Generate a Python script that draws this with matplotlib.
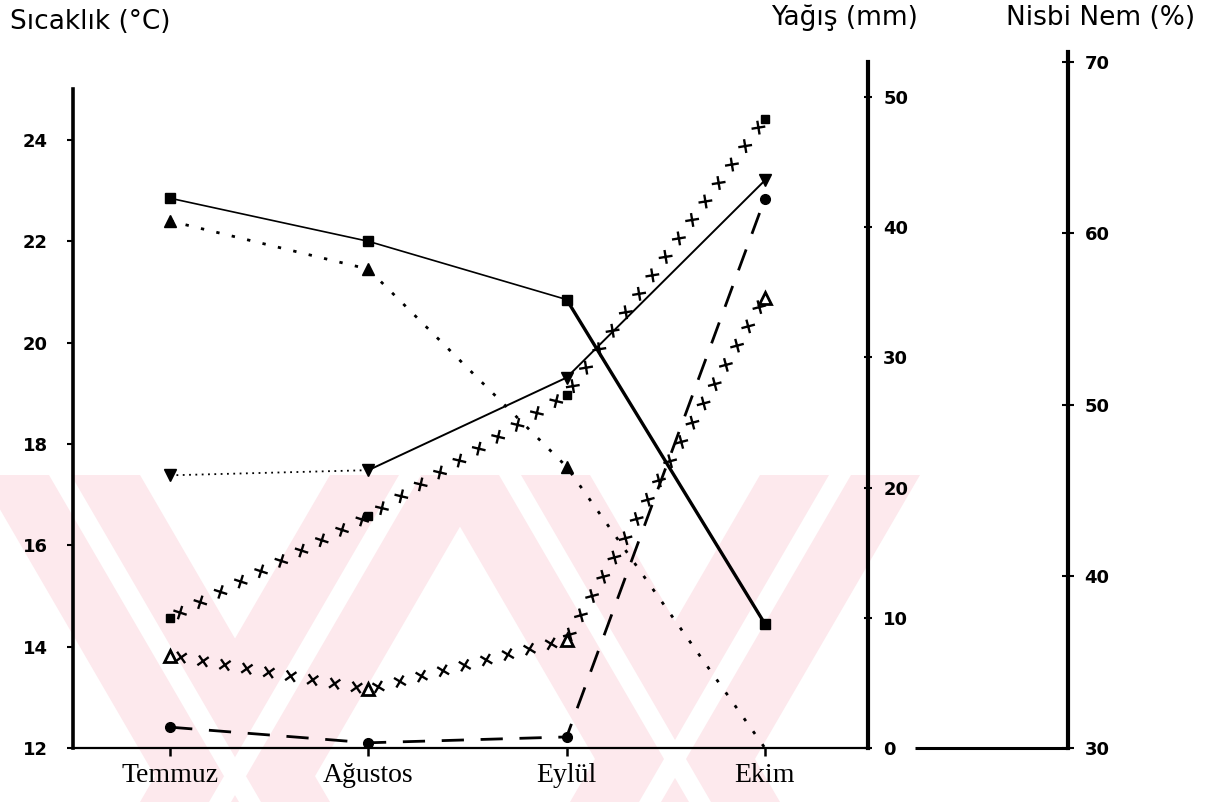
import matplotlib
matplotlib.use("Agg")
import matplotlib.pyplot as plt
from matplotlib import patheffects as pe
from matplotlib.patches import Polygon
import numpy as np

# ---------------- data ----------------
aylar = ["Temmuz", "Ağustos", "Eylül", "Ekim"]
sicaklik_1 = [22.85, 22.0, 20.85, 14.45]     # solid, filled squares
sicaklik_2 = [22.4, 21.45, 17.55, 12.0]      # dotted, filled triangles
yagis_1 = [1.6, 0.4, 0.85, 42.2]             # long dashes, filled circles
yagis_2 = [7.1, 4.5, 8.3, 34.6]              # crosses, open triangles
nem_1 = [45.9, 46.2, 51.6, 63.1]             # thin solid, inverted triangles
nem_2 = [37.6, 43.5, 50.6, 66.7]             # crosses, squares

sic_ticks = [12, 14, 16, 18, 20, 22, 24]
yagis_ticks = [0, 10, 20, 30, 40, 50]
nem_ticks = [30, 40, 50, 60, 70]

# ---------------- figure ----------------
W, H = 1216, 802
fig = plt.figure(figsize=(W / 100, H / 100), dpi=100)
fig.patch.set_facecolor("white")

# watermark background (light pink X pattern)
bg = fig.add_axes([0, 0, 1, 1], zorder=-10)
bg.set_xlim(0, W)
bg.set_ylim(H, 0)
bg.axis("off")
pink = "#fde9ed"
top, bot = 475, 802
arms = [  # (top-left x, bottom-left x), band width 160
    (-20, 170), (330, 140), (430, 620), (760, 570),
]
bw = 160
for tx, bx in arms:
    bg.add_patch(Polygon([(tx, top), (tx + bw, top), (bx + bw, bot), (bx, bot)],
                         closed=True, facecolor=pink, edgecolor="none"))
for tx, bx in arms:
    c = bw / 2 - 11
    bg.add_patch(Polygon([(tx + c, top), (tx + c + 22, top), (bx + c + 22, bot), (bx + c, bot)],
                         closed=True, facecolor="white", edgecolor="none"))

x0, x1 = 73, 868
ytop, ybot = 50, 748
ax = fig.add_axes([x0 / W, (H - ybot) / H, (x1 - x0) / W, (ybot - ytop) / H])
ax.patch.set_alpha(0)

x = np.arange(len(aylar))
ax.set_xlim(-0.49, 3.52)
ax.set_ylim(12, 12 + (ybot - ytop) / 50.67)

ax2 = ax.twinx()
ax2.set_ylim(0, (ybot - ytop) / 13.02)
ax3 = ax.twinx()
ax3.set_ylim(30, 30 + (ybot - ytop) / 17.15)

tick_font = dict(family="DejaVu Sans", weight="bold", size=13)

# left axis
for s in ["top", "right"]:
    ax.spines[s].set_visible(False)
ax.spines["left"].set_linewidth(2.6)
ax.spines["left"].set_bounds(12, 25.0)
ax.spines["bottom"].set_linewidth(1.6)
ax.set_yticks(sic_ticks)
ax.set_yticklabels([str(t) for t in sic_ticks], fontdict=tick_font)
ax.tick_params(axis="y", direction="out", length=4, width=1.5, pad=14)
ax.set_xticks(x)
ax.set_xticklabels(aylar, family="Liberation Serif", size=20)
ax.tick_params(axis="x", direction="out", length=6, width=1.8, pad=5)

# Yagis axis
for s in ["top", "left", "bottom"]:
    ax2.spines[s].set_visible(False)
ax2.spines["right"].set_linewidth(3.0)
ax2.spines["right"].set_bounds(0, 52.7)
ax2.set_yticks(yagis_ticks)
ax2.set_yticklabels([str(t) for t in yagis_ticks], fontdict=tick_font)
ax2.tick_params(axis="y", direction="inout", length=6, width=1.5, pad=8)

# Nem axis
for s in ["top", "left", "bottom"]:
    ax3.spines[s].set_visible(False)
ax3.spines["right"].set_position(("axes", (1068 - x0) / (x1 - x0)))
ax3.spines["right"].set_linewidth(3.0)
ax3.spines["right"].set_bounds(30, 70.6)
ax3.set_yticks(nem_ticks)
ax3.set_yticklabels([str(t) for t in nem_ticks], fontdict=tick_font)
ax3.tick_params(axis="y", direction="inout", length=8, width=1.5, pad=8)
ax3.plot([(915 - x0) / (x1 - x0), (1068 - x0) / (x1 - x0)], [0, 0],
         transform=ax.transAxes, color="k", lw=2.2, clip_on=False,
         solid_capstyle="butt")

# axis titles
title_font = dict(family="DejaVu Sans", size=19, color="k")
fig.text(10 / W, 1 - 22 / H, "Sıcaklık (°C)", ha="left", va="center", **title_font)
fig.text(918 / W, 1 - 18 / H, "Yağış (mm)", ha="right", va="center", **title_font)
fig.text(1195 / W, 1 - 18 / H, "Nisbi Nem (%)", ha="right", va="center", **title_font)

k = "black"

def crosses(axis, yv):
    fx = [pe.TickedStroke(spacing=16, length=0.26, angle=a, linewidth=1.7)
          for a in (45, 135, 225, 315)]
    axis.plot(x, yv, color=k, lw=1.7, path_effects=fx, zorder=3)

# sicaklik_1 : solid with squares, thick last segment
ax.plot(x, sicaklik_1, color=k, lw=1.2, zorder=3)
ax.plot(x[2:], sicaklik_1[2:], color=k, lw=2.4, zorder=3)
ax.plot(x, sicaklik_1, ls="none", marker="s", ms=7, color=k, zorder=4)

# sicaklik_2 : dotted with triangles
ax.plot(x, sicaklik_2, color=k, lw=2.0, ls=(0, (1.2, 4.5)), zorder=3)
ax.plot(x[:3], sicaklik_2[:3], ls="none", marker="^", ms=8, color=k, zorder=4)

# nem_1 : dotted then solid, inverted triangles
ax3.plot(x[:2], nem_1[:2], color=k, lw=1.3, ls=(0, (1, 2.5)), zorder=3)
ax3.plot(x[1:], nem_1[1:], color=k, lw=1.4, zorder=3)
ax3.plot(x, nem_1, ls="none", marker="v", ms=9, color=k, zorder=4)

# nem_2 : crosses with squares
crosses(ax3, nem_2)
ax3.plot(x, nem_2, ls="none", marker="s", ms=6, color=k, zorder=4)

# yagis_2 : crosses with open triangles
crosses(ax2, yagis_2)
ax2.plot(x, yagis_2, ls="none", marker="^", ms=9, mfc="white", mec=k, mew=2, zorder=4)

# yagis_1 : long dashes with circles
ax2.plot(x, yagis_1, color=k, lw=2.0, ls=(0, (8, 6)), zorder=3)
ax2.plot(x, yagis_1, ls="none", marker="o", ms=7, color=k, zorder=4)

fig.savefig("out.png", dpi=100)
